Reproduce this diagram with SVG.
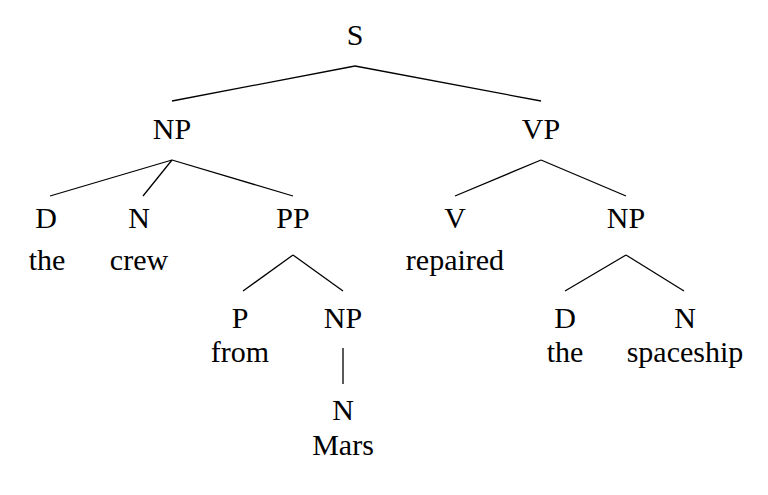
<svg xmlns="http://www.w3.org/2000/svg" width="768" height="495" viewBox="0 0 768 495">
<style>
text{font-family:"Liberation Serif","Times New Roman",serif;font-size:30px;text-anchor:middle;fill:#000}
line{stroke:#000;stroke-width:1.3}
</style>
<rect width="768" height="495" fill="#fff"/>
<g id="connectors">
<line x1="355" y1="66" x2="172" y2="101"/>
<line x1="355" y1="66" x2="541" y2="101"/>
<line x1="172" y1="160" x2="50" y2="196"/>
<line x1="172" y1="160" x2="143" y2="196"/>
<line x1="172" y1="160" x2="293" y2="196"/>
<line x1="293" y1="255" x2="243" y2="291"/>
<line x1="293" y1="255" x2="343" y2="291"/>
<line x1="343" y1="348" x2="343" y2="384"/>
<line x1="541" y1="160" x2="455" y2="196"/>
<line x1="541" y1="160" x2="626" y2="196"/>
<line x1="626" y1="255" x2="565" y2="291"/>
<line x1="626" y1="255" x2="684" y2="291"/>
</g>
<g id="S"><text x="355" y="45">S</text></g>
<g id="NP1"><text x="172" y="139">NP</text></g>
<g id="VP"><text x="541" y="139">VP</text></g>
<g id="D1"><text x="46" y="228">D</text><text x="47" y="270">the</text></g>
<g id="N1"><text x="139" y="228">N</text><text x="139" y="270">crew</text></g>
<g id="PP"><text x="293" y="228">PP</text></g>
<g id="P"><text x="240" y="328">P</text><text x="240" y="362">from</text></g>
<g id="NP2"><text x="343" y="328">NP</text></g>
<g id="N2"><text x="343" y="420">N</text><text x="343" y="455">Mars</text></g>
<g id="V"><text x="455" y="228">V</text><text x="455" y="270">repaired</text></g>
<g id="NP3"><text x="626" y="228">NP</text></g>
<g id="D2"><text x="565" y="328">D</text><text x="565" y="362">the</text></g>
<g id="N3"><text x="685" y="328">N</text><text x="685" y="362">spaceship</text></g>
</svg>
